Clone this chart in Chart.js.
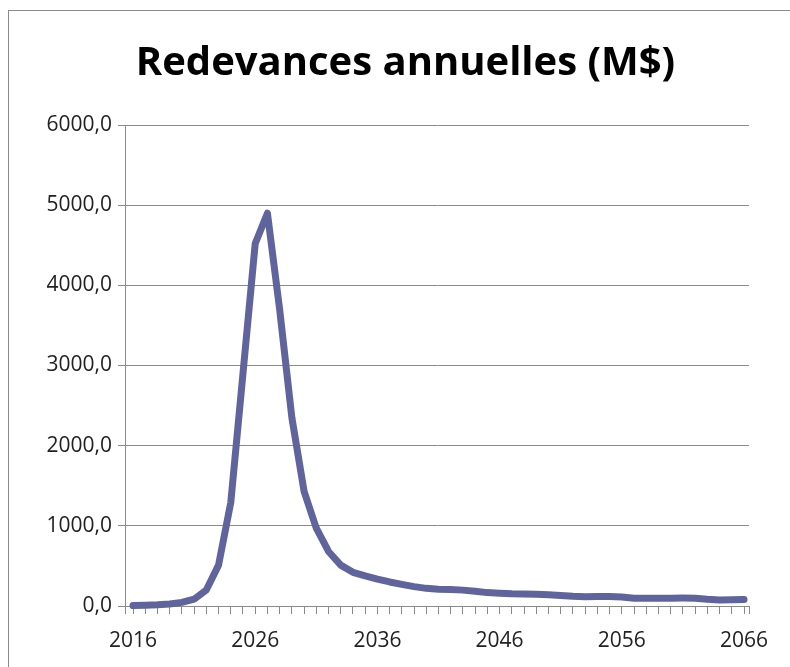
<!DOCTYPE html>
<html>
<head>
<meta charset="utf-8">
<script src="https://cdn.jsdelivr.net/npm/chart.js@4"></script>
<style>
  html, body { margin: 0; padding: 0; background: #fff; overflow: hidden; }
  #box {
    position: absolute; left: 8px; top: 10px;
    width: 793px; height: 656px;
    border: 1px solid #8a8a8a;
    background: #fff;
  }
  canvas { display: block; }
</style>
</head>
<body>
<div id="box"><canvas id="chart" width="793" height="656"></canvas></div>
<script>
// Redevances annuelles, en M$
const years = [
  2016, 2017, 2018, 2019, 2020, 2021, 2022, 2023, 2024, 2025,
  2026, 2027, 2028, 2029, 2030, 2031, 2032, 2033, 2034, 2035,
  2036, 2037, 2038, 2039, 2040, 2041, 2042, 2043, 2044, 2045,
  2046, 2047, 2048, 2049, 2050, 2051, 2052, 2053, 2054, 2055,
  2056, 2057, 2058, 2059, 2060, 2061, 2062, 2063, 2064, 2065, 2066
];
const redevances = [
  5, 10, 15, 25, 45, 85, 200, 510, 1290, 2900,
  4520, 4900, 3700, 2350, 1430, 970, 680, 510, 420, 375,
  335, 300, 270, 242, 220, 210, 205, 198, 185, 167,
  160, 152, 150, 148, 140, 132, 122, 116, 118, 120,
  112, 98, 96, 97, 98, 99, 98, 85, 76, 78, 80
];
const labelYears = [2016, 2026, 2036, 2046, 2056, 2066];
const yTicks = [0, 1000, 2000, 3000, 4000, 5000, 6000];

const gris = '#8a8a8a';
const police = "'Open Sans', 'DejaVu Sans', sans-serif";
const xMin = 2016 - 8 / 12.22;
const xMax = 2066 + 5 / 12.22;

new Chart(document.getElementById('chart'), {
    type: 'line',
    data: {
        datasets: [{
            label: 'Redevances',
            data: years.map((y, i) => ({ x: y, y: redevances[i] })),
            borderColor: '#60649c',
            borderWidth: 7,
            borderCapStyle: 'round',
            borderJoinStyle: 'round',
            pointRadius: 0,
            tension: 0,
            clip: 8
        }]
    },
    options: {
        responsive: false,
        animation: false,
        layout: { padding: 0 },
        plugins: {
            legend: { display: false },
            tooltip: { enabled: false },
            title: {
                display: true,
                text: 'Redevances annuelles (M$)',
                color: '#000',
                font: { family: police, size: 40, weight: 'bold', lineHeight: 1.2 },
                padding: { top: 29, bottom: 37 }
            }
        },
        scales: {
            x: {
                type: 'linear',
                min: xMin,
                max: xMax,
                afterFit: s => { s.height = 61; },
                afterBuildTicks: s => {
                    s.ticks = [xMin, ...years, xMax].map(v => ({ value: v }));
                },
                border: { color: gris, width: 1 },
                grid: { drawOnChartArea: false, drawTicks: true, tickLength: 8, color: gris },
                ticks: {
                    autoSkip: false,
                    maxRotation: 0,
                    padding: 14,
                    color: '#222',
                    font: { family: police, size: 21 },
                    callback: v => labelYears.includes(v) ? String(v) : ''
                }
            },
            y: {
                min: 0,
                max: 6000,
                afterFit: s => { s.width = 116; },
                afterBuildTicks: s => { s.ticks = yTicks.map(v => ({ value: v })); },
                border: { color: gris, width: 1 },
                grid: { color: gris, lineWidth: 1, tickLength: 7 },
                ticks: {
                    padding: 6,
                    color: '#222',
                    font: { family: police, size: 21 },
                    callback: v => v.toFixed(1).replace('.', ',')
                }
            },
            // marge droite vide, pour garder le titre centré sur toute la largeur
            marge: {
                position: 'right',
                min: 0,
                max: 1,
                afterFit: s => { s.width = 53; },
                border: { display: false },
                grid: { display: false },
                ticks: { display: false }
            }
        }
    }
});
</script>
</body>
</html>
